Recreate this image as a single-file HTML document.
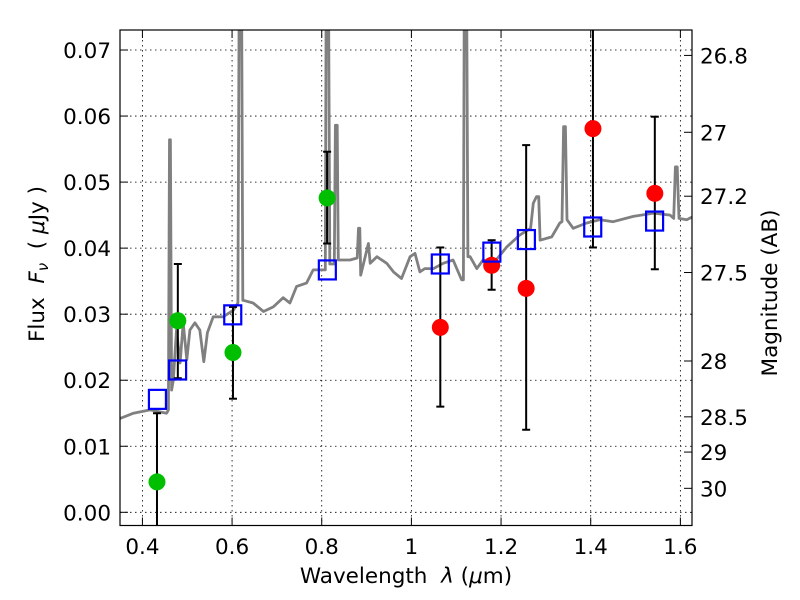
<!DOCTYPE html>
<html><head><meta charset="utf-8"><style>
html,body{margin:0;padding:0;background:#fff;}
svg text{font-family:"DejaVu Sans","Liberation Sans",sans-serif;fill:#000;white-space:pre;}
</style></head><body>
<svg id="chart" width="800" height="600" viewBox="0 0 800 600" style="position:absolute;left:0;top:0">
<rect x="0" y="0" width="800" height="600" fill="#fff"/>
<g id="grid"></g>
<g id="plot"></g>
<g id="axes"></g>
<text x="406" y="583" font-size="21.5" text-anchor="middle">Wavelength  <tspan font-style="italic">λ</tspan> (<tspan font-style="italic">μ</tspan>m)</text>
<text transform="translate(44,264) rotate(-90)" font-size="21.5" text-anchor="middle">Flux  <tspan font-style="italic">F</tspan><tspan font-style="italic" font-size="15" dy="4">ν</tspan><tspan dy="-4">  ( </tspan><tspan font-style="italic">μ</tspan>Jy )</text>
<text transform="translate(777,293) rotate(-90)" font-size="21.5" text-anchor="middle">Magnitude (AB)</text>
</svg>
<script>
// ---- data ----
const specWl = [0.350,0.380,0.417,0.454,0.458,0.4605,0.4625,0.465,0.469,0.476,0.484,0.491,0.499,0.506,0.517,0.528,0.537,0.545,0.558,0.580,0.603,0.613,0.6165,0.6205,0.624,0.625,0.647,0.670,0.692,0.714,0.729,0.744,0.766,0.781,0.803,0.808,0.8105,0.8145,0.818,0.828,0.8305,0.8345,0.837,0.863,0.879,0.882,0.885,0.887,0.904,0.908,0.923,0.945,0.960,0.978,0.997,1.008,1.019,1.030,1.049,1.071,1.093,1.112,1.116,1.1185,1.1225,1.126,1.131,1.146,1.160,1.183,1.213,1.242,1.266,1.272,1.279,1.284,1.287,1.313,1.331,1.336,1.3395,1.3435,1.347,1.361,1.391,1.421,1.450,1.495,1.540,1.577,1.585,1.589,1.593,1.597,1.614,1.629];
const specFlux = [0.0142,0.0150,0.0155,0.0150,0.0155,0.0564,0.0564,0.0185,0.0200,0.0276,0.0226,0.0287,0.0231,0.0276,0.0287,0.0276,0.0228,0.0272,0.0296,0.0296,0.0306,0.0317,0.0900,0.0900,0.0321,0.0321,0.0317,0.0304,0.0311,0.0325,0.0317,0.0342,0.0347,0.0367,0.0367,0.0367,0.0900,0.0900,0.0376,0.0376,0.0586,0.0586,0.0382,0.0382,0.0385,0.0430,0.0430,0.0359,0.0407,0.0377,0.0387,0.0377,0.0364,0.0354,0.0387,0.0392,0.0364,0.0369,0.0369,0.0377,0.0382,0.0352,0.0352,0.0900,0.0900,0.0387,0.0387,0.0369,0.0382,0.0377,0.0402,0.0420,0.0430,0.0468,0.0478,0.0478,0.0412,0.0417,0.0438,0.0440,0.0584,0.0584,0.0443,0.0430,0.0438,0.0443,0.0440,0.0448,0.0453,0.0450,0.0445,0.0523,0.0523,0.0445,0.0443,0.0448];
const greenWl = [0.4325,0.479,0.602,0.812];
const greenFlux = [0.0046,0.0290,0.0242,0.0476];
const greenErrLo = [-0.010,0.0203,0.0172,0.0407];
const greenErrHi = [0.0150,0.0376,0.0311,0.0546];
const redWl = [1.0645,1.179,1.256,1.405,1.543];
const redFlux = [0.0280,0.0374,0.0339,0.0581,0.0483];
const redErrLo = [0.0160,0.0337,0.0125,0.0401,0.0368];
const redErrHi = [0.0401,0.0412,0.0556,0.0900,0.0599];
const modelWl = [0.4335,0.4785,0.6015,0.8125,1.0645,1.1795,1.2565,1.4045,1.5425];
const modelFlux = [0.0171,0.02155,0.0299,0.0367,0.0376,0.0394,0.0413,0.0432,0.0441];
const xTicks = [0.4,0.6,0.8,1.0,1.2,1.4,1.6];
const xTickLabels = ["0.4","0.6","0.8","1","1.2","1.4","1.6"];
const yTicks = [0,0.01,0.02,0.03,0.04,0.05,0.06,0.07];
const yTickLabels = ["0.00","0.01","0.02","0.03","0.04","0.05","0.06","0.07"];
const magTicks = [26.8,27,27.2,27.5,28,28.5,29,30];
const magTickLabels = ["26.8","27","27.2","27.5","28","28.5","29","30"];

// ---- scales ----
const L=120,R=692,T=30,B=525.5;
function sx(w){return L+(w-0.35)*448.3;}
function sy(f){return 512.3-f*6604;}
function magToFlux(m){return Math.pow(10,(23.9-m)/2.5);}
const NS="http://www.w3.org/2000/svg";
function mk(parent,tag,attrs){const e=document.createElementNS(NS,tag);for(const k in attrs)e.setAttribute(k,attrs[k]);parent.appendChild(e);return e;}
const grid=document.getElementById('grid'),plot=document.getElementById('plot'),axes=document.getElementById('axes');

const defs=mk(document.getElementById('chart'),'defs',{});
const cp=mk(defs,'clipPath',{id:'clip'});
mk(cp,'rect',{x:L,y:T,width:R-L,height:B-T});
plot.setAttribute('clip-path','url(#clip)');

xTicks.forEach((v,i)=>{
  const l=mk(grid,'line',{x1:sx(v),x2:sx(v),y1:T,y2:B,stroke:'#000','stroke-width':0.8,'stroke-dasharray':'1.5,3.5'});
  
  
});
yTicks.forEach((v,i)=>{
  const l=mk(grid,'line',{x1:L,x2:R,y1:sy(v),y2:sy(v),stroke:'#000','stroke-width':0.8,'stroke-dasharray':'1.5,3.5'});
  
  
});

const pts=specWl.map((w,i)=>sx(w).toFixed(1)+','+sy(specFlux[i]).toFixed(1)).join(' ');
const spec=mk(plot,'polyline',{points:pts,fill:'none',stroke:'#808080','stroke-width':2.8,'stroke-linejoin':'round'});



function errbar(w,lo,hi,name){
  const g=mk(plot,'g',{});
  
  
  const x=sx(w);
  mk(g,'line',{x1:x,x2:x,y1:sy(lo),y2:sy(hi),stroke:'#000','stroke-width':2});
  mk(g,'line',{x1:x-4,x2:x+4,y1:sy(lo),y2:sy(lo),stroke:'#000','stroke-width':2});
  mk(g,'line',{x1:x-4,x2:x+4,y1:sy(hi),y2:sy(hi),stroke:'#000','stroke-width':2});
}
greenWl.forEach((w,i)=>errbar(w,greenErrLo[i],greenErrHi[i],'green-error-bar'));
redWl.forEach((w,i)=>errbar(w,redErrLo[i],redErrHi[i],'red-error-bar'));
greenWl.forEach((w,i)=>{
  const c=mk(plot,'circle',{cx:sx(w),cy:sy(greenFlux[i]),r:8.5,fill:'#00bf00'});
  
  
});
redWl.forEach((w,i)=>{
  const c=mk(plot,'circle',{cx:sx(w),cy:sy(redFlux[i]),r:8.5,fill:'#ff0000'});
  
  
});
modelWl.forEach((w,i)=>{
  const r=mk(plot,'rect',{x:sx(w)-8.5,y:sy(modelFlux[i])-9.5,width:17,height:19,fill:'none',stroke:'#0000ff','stroke-width':2.2});
  
  
});

const fr=mk(axes,'rect',{x:L,y:T,width:R-L,height:B-T,fill:'none',stroke:'#000','stroke-width':1.2});



xTicks.forEach((v,i)=>{
  const x=sx(v);
  mk(axes,'line',{x1:x,x2:x,y1:B,y2:B-8,stroke:'#000','stroke-width':1});
  mk(axes,'line',{x1:x,x2:x,y1:T,y2:T+8,stroke:'#000','stroke-width':1});
  const t=mk(axes,'text',{x:x,y:554,'font-size':21.5,'text-anchor':'middle'});
  t.textContent=xTickLabels[i];
  
  
});
yTicks.forEach((v,i)=>{
  const y=sy(v);
  mk(axes,'line',{x1:L,x2:L+8,y1:y,y2:y,stroke:'#000','stroke-width':1});
  const t=mk(axes,'text',{x:111,y:y+8,'font-size':21.5,'text-anchor':'end'});
  t.textContent=yTickLabels[i];
  
  
});
magTicks.forEach((m,i)=>{
  const y=sy(magToFlux(m));
  mk(axes,'line',{x1:R,x2:R-8,y1:y,y2:y,stroke:'#000','stroke-width':1});
  const t=mk(axes,'text',{x:700,y:y+8,'font-size':21.5,'text-anchor':'start'});
  t.textContent=magTickLabels[i];
  
  
});
</script>
</body></html>
